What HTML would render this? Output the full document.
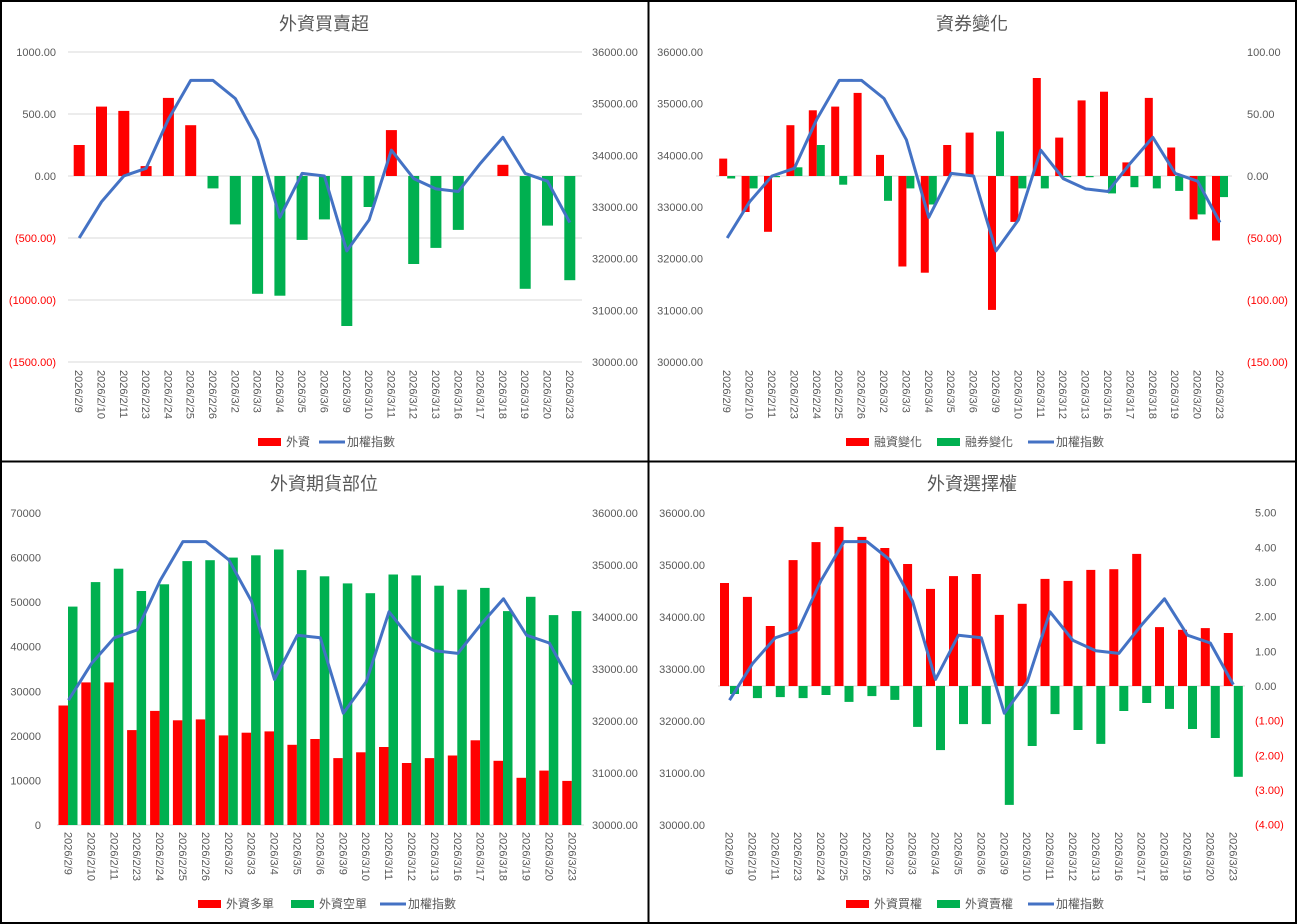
<!DOCTYPE html>
<html><head><meta charset="utf-8">
<style>
body{margin:0;background:#fff;}
svg{display:block;font-family:"Liberation Sans","Noto Sans CJK TC",sans-serif;}
</style></head>
<body>
<svg id="s" width="1297" height="924" xmlns="http://www.w3.org/2000/svg"></svg>
<script>
const S=document.getElementById('s');let h='';
const dates=["2026/2/9","2026/2/10","2026/2/11","2026/2/23","2026/2/24","2026/2/25","2026/2/26","2026/3/2","2026/3/3","2026/3/4","2026/3/5","2026/3/6","2026/3/9","2026/3/10","2026/3/11","2026/3/12","2026/3/13","2026/3/16","2026/3/17","2026/3/18","2026/3/19","2026/3/20","2026/3/23"];
const idx=[32400,33100,33600,33750,34700,35450,35450,35100,34300,32800,33650,33600,32150,32750,34100,33550,33350,33300,33850,34350,33650,33500,32700];
const R='#ff0000',G='#00b050',B='#4472c4',T='#595959';
function txt(x,y,s,a,c,fs){h+=`<text x="${x}" y="${y}" font-size="${fs||11}" fill="${c||T}" text-anchor="${a||'start'}">${s}</text>`;}
function rect(x,y,w,hh,c){if(hh<0){y+=hh;hh=-hh;}h+=`<rect x="${x.toFixed(1)}" y="${y.toFixed(1)}" width="${w}" height="${Math.max(hh,0.5).toFixed(1)}" fill="${c}"/>`;}
function xlabels(x0,cw,y){dates.forEach((d,i)=>{const x=x0+cw*(i+0.5)-4;h+=`<text transform="translate(${x.toFixed(1)},${y}) rotate(90)" font-size="11" fill="${T}">${d}</text>`;});}
function line(x0,cw,yt,yb){const pts=idx.map((v,i)=>`${(x0+cw*(i+0.5)).toFixed(1)},${(yt+(36000-v)/6000*(yb-yt)).toFixed(1)}`).join(' ');h+=`<polyline points="${pts}" fill="none" stroke="${B}" stroke-width="3" stroke-linejoin="round"/>`;}
function legend(items,y){items.forEach(it=>{if(it[2]=='l')h+=`<line x1="${it[0]}" y1="${y}" x2="${it[0]+26}" y2="${y}" stroke="${B}" stroke-width="3"/>`;else rect(it[0],y-4,23,8,it[2]);txt(it[0]+28,y+4,it[1],'start',T,12);});}
// chart1
{const x0=68,cw=22.3,zy=176,k=62/500;
[52,114,238,300,362].forEach(y=>h+=`<line x1="${x0}" y1="${y}" x2="582" y2="${y}" stroke="#d9d9d9"/>`);
h+=`<line x1="${x0}" y1="${zy}" x2="582" y2="${zy}" stroke="#d9d9d9"/>`;
const v=[250,560,525,80,630,410,-100,-390,-950,-965,-515,-350,-1210,-250,370,-710,-580,-435,0,90,-910,-400,-840];
v.forEach((a,i)=>{if(a)rect(x0+cw*(i+0.5)-5.5,zy,11,-a*k,a>0?R:G);});
line(x0,cw,52,362);
[["1000.00",52,T],["500.00",114,T],["0.00",176,T],["(500.00)",238,R],["(1000.00)",300,R],["(1500.00)",362,R]].forEach(l=>txt(56,l[1]+4,l[0],'end',l[2]));
["36000.00","35000.00","34000.00","33000.00","32000.00","31000.00","30000.00"].forEach((l,i)=>txt(592,52+i*51.67+4,l));
xlabels(x0,cw,370);txt(324,30,"外資買賣超","middle",T,18);
legend([[258,"外資",R],[319,"加權指數",'l']],442);}
// chart2
{const x0=716,cw=22.4,zy=176,k=1.24;
h+=`<line x1="${x0}" y1="${zy}" x2="1232" y2="${zy}" stroke="#d9d9d9"/>`;
const r=[14,-29,-45,41,53,56,67,17,-73,-78,25,35,-108,-37,79,31,61,68,11,63,23,-35,-52];
const g=[-2,-10,-1,7,25,-7,0,-20,-10,-23,0,0,36,-10,-10,-1,-1,-14,-9,-10,-12,-31,-17];
r.forEach((a,i)=>{const c=x0+cw*(i+0.5);rect(c-8,zy,8,-a*k,R);if(g[i])rect(c,zy,8,-g[i]*k,G);});
line(x0,cw,52,362);
["36000.00","35000.00","34000.00","33000.00","32000.00","31000.00","30000.00"].forEach((l,i)=>txt(703,52+i*51.67+4,l,'end'));
[["100.00",52,T],["50.00",114,T],["0.00",176,T],["(50.00)",238,R],["(100.00)",300,R],["(150.00)",362,R]].forEach(l=>txt(1247,l[1]+4,l[0],'start',l[2]));
xlabels(x0,cw,370);txt(972,30,"資券變化","middle",T,18);
legend([[846,"融資變化",R],[937,"融券變化",G],[1028,"加權指數",'l']],442);}
// chart3
{const x0=57,cw=22.9,zy=825,k=312/70000;
h+=`<line x1="${x0}" y1="${zy}" x2="584" y2="${zy}" stroke="#d9d9d9"/>`;
const l=[26800,32000,32000,21300,25600,23500,23700,20100,20700,21000,18000,19300,15000,16300,17500,13900,15000,15600,19000,14400,10600,12200,9900];
const s=[49000,54500,57500,52500,54000,59200,59400,60000,60500,61800,57200,55800,54200,52000,56200,56000,53700,52800,53200,48000,51200,47100,48000];
l.forEach((a,i)=>{const c=x0+cw*(i+0.5);rect(c-10,zy,9.5,-a*k,R);rect(c-0.5,zy,9.5,-s[i]*k,G);});
line(x0,cw,513,825);
for(let i=0;i<=7;i++)txt(41,825-i*44.57+4,String(i*10000),'end');
["36000.00","35000.00","34000.00","33000.00","32000.00","31000.00","30000.00"].forEach((t,i)=>txt(592,513+i*52+4,t));
xlabels(x0,cw,832);txt(324,490,"外資期貨部位","middle",T,18);
legend([[198,"外資多單",R],[291,"外資空單",G],[380,"加權指數",'l']],904);}
// chart4
{const x0=718,cw=22.9,zy=686,k=34.67;
const r=[2.97,2.57,1.73,3.63,4.15,4.59,4.30,3.98,3.52,2.80,3.17,3.23,2.05,2.37,3.09,3.03,3.35,3.37,3.81,1.70,1.62,1.67,1.53];
const g=[-0.23,-0.35,-0.32,-0.35,-0.26,-0.46,-0.29,-0.40,-1.18,-1.85,-1.10,-1.10,-3.43,-1.73,-0.81,-1.27,-1.67,-0.72,-0.49,-0.66,-1.24,-1.50,-2.62];
h+=`<line x1="${x0}" y1="${zy}" x2="1245" y2="${zy}" stroke="#d9d9d9"/>`;
r.forEach((a,i)=>{const c=x0+cw*(i+0.5);rect(c-9.5,zy,9,-a*k,R);rect(c+0.5,zy,9,-g[i]*k,G);});
line(x0,cw,513,825);
["36000.00","35000.00","34000.00","33000.00","32000.00","31000.00","30000.00"].forEach((t,i)=>txt(705,513+i*52+4,t,'end'));
[["5.00",5],["4.00",4],["3.00",3],["2.00",2],["1.00",1],["0.00",0],["(1.00)",-1],["(2.00)",-2],["(3.00)",-3],["(4.00)",-4]].forEach(l=>txt(1255,686-l[1]*k+4,l[0],'start',l[1]<0?R:T));
xlabels(x0,cw,832);txt(972,490,"外資選擇權","middle",T,18);
legend([[846,"外資買權",R],[937,"外資賣權",G],[1028,"加權指數",'l']],904);}
// borders
h+=`<rect x="1" y="1" width="1295" height="922" fill="none" stroke="#000" stroke-width="2"/><line x1="648.5" y1="0" x2="648.5" y2="924" stroke="#000" stroke-width="2"/><line x1="0" y1="461.5" x2="1297" y2="461.5" stroke="#000" stroke-width="2"/>`;
S.innerHTML=h;
</script>
</body></html>
